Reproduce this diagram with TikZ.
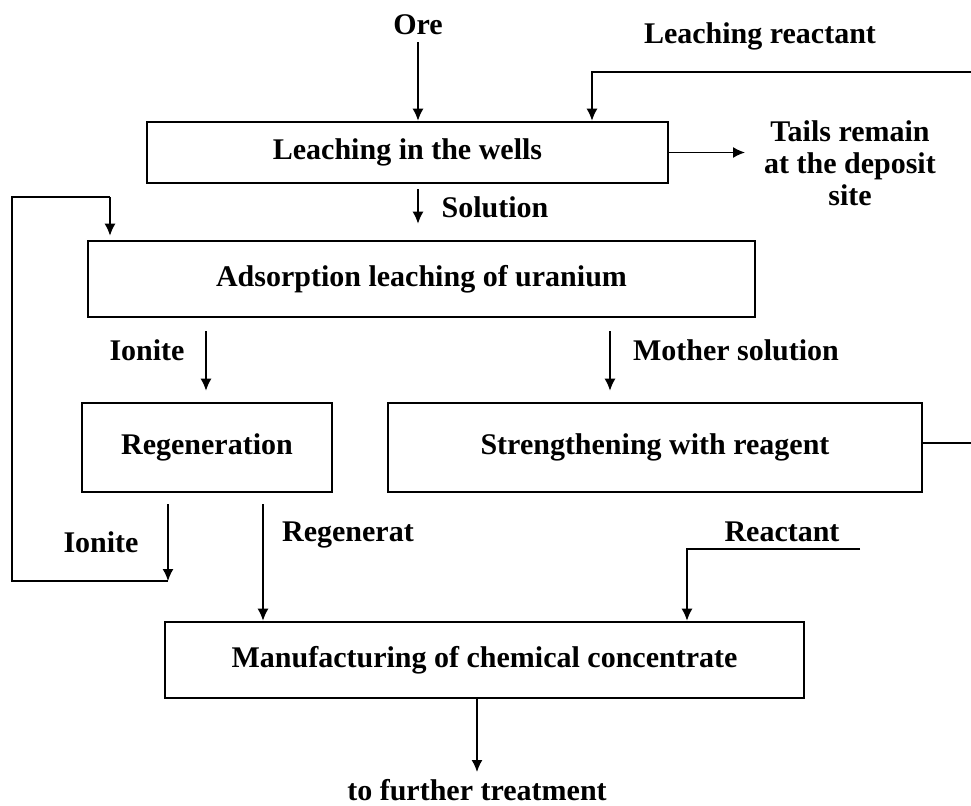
\documentclass[tikz,border=0pt]{standalone}
\usepackage{fontspec}
\setmainfont{Liberation Serif}
\usepackage{tikz}
\usetikzlibrary{shapes,arrows,arrows.meta,positioning}
\tikzstyle{proc} = [rectangle, draw=black, line width=1.3pt, inner sep=0pt, text centered, font=\bfseries\fontsize{15}{16}\selectfont]
\tikzstyle{textonly} = [draw=none, fill=none, align=center, font=\bfseries\fontsize{15}{16}\selectfont]
\tikzstyle{tedge}  = [draw, line width=0.75pt, >={Latex[length=6pt,width=5.5pt]}, ->]
\tikzstyle{tline}  = [draw, line width=0.75pt]

\begin{document}
\begin{tikzpicture}[x=0.5pt, y=-0.5pt]
\useasboundingbox (0,0) rectangle (971,805);

% process boxes =============================
\node[proc, minimum width=260.5pt, minimum height=30.5pt] (wells) at (407.5,152.5) {Leaching in the wells};
\node[proc, minimum width=333.5pt, minimum height=38pt] (adsorp) at (421.5,279) {Adsorption leaching of uranium};
\node[proc, minimum width=125pt, minimum height=44.5pt] (regen) at (207,447.5) {Regeneration};
\node[proc, minimum width=267pt, minimum height=44.5pt] (streng) at (655,447.5) {Strengthening with reagent};
\node[proc, minimum width=319.5pt, minimum height=38pt] (manuf) at (484.5,660) {Manufacturing of chemical concentrate};

% labels
\node[textonly] (ore) at (418,25) {Ore};
\node[textonly] (lreact) at (760,36) {Leaching reactant};
\node[textonly] (tails) at (850,163) {Tails remain\\at the deposit\\site};
\node[textonly] (solution) at (495,207) {Solution};
\node[textonly] (ionite) at (147,350) {Ionite};
\node[textonly] (mother) at (736,350) {Mother solution};
\node[textonly] (ionitetwo) at (101,542) {Ionite};
\node[textonly] (regenerat) at (348,535) {Regenerat};
\node[textonly] (reactant) at (782,532) {Reactant};
\node[textonly] (further) at (477,790) {to further treatment};

% turning points
\coordinate (rtop) at (971,72);
\coordinate (rbend) at (592,72);
\coordinate (tailsin) at (745,152.5);
\coordinate (solx) at (418,0);
\coordinate (ionx) at (206,0);
\coordinate (motx) at (610,0);
\coordinate (regx) at (263,0);
\coordinate (outx) at (477,0);
\coordinate (rmid) at (971,443);
\coordinate (loopa) at (168,581);
\coordinate (loopb) at (12,581);
\coordinate (loopc) at (12,197);
\coordinate (loopd) at (110,197);
\coordinate (reacta) at (860,549);
\coordinate (reactb) at (687,549);
\coordinate (outend) at (477,772);

% edges
\path[tedge] (ore) -- (ore |- wells.north);
\path[tedge] (rtop) -- (rbend) -- (rbend |- wells.north);
\path[tedge] (wells.east) -- (tailsin);
\path[tedge, shorten <=2.5pt, shorten >=8pt] (wells.south -| solx) -- (adsorp.north -| solx);
\path[tedge, shorten <=6.5pt, shorten >=5.5pt] (adsorp.south -| ionx) -- (regen.north -| ionx);
\path[tedge, shorten <=6.5pt, shorten >=5.5pt] (adsorp.south -| motx) -- (streng.north -| motx);
\path[tline] (streng.east |- rmid) -- (rmid);
\path[tedge, shorten <=5.5pt] (regen.south -| loopa) -- (loopa);
\path[tline] (loopa) -- (loopb) -- (loopc) -- (loopd);
\path[tedge, shorten >=2pt] (loopd) -- (loopd |- adsorp.north);
\path[tedge, shorten <=5.5pt] (regen.south -| regx) -- (manuf.north -| regx);
\path[tedge] (reacta) -- (reactb) -- (reactb |- manuf.north);
\path[tedge] (manuf.south -| outx) -- (outend);

\end{tikzpicture}
\end{document}
